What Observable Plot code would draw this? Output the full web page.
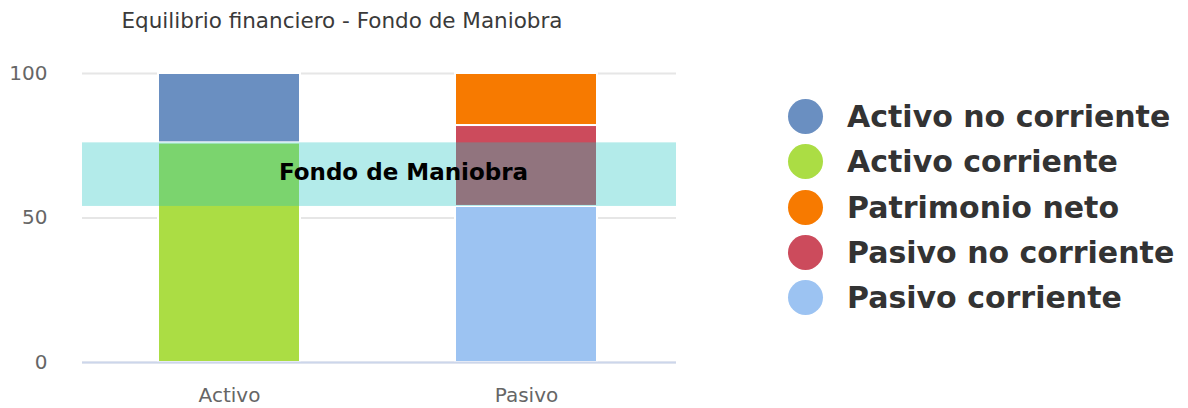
<!DOCTYPE html>
<html>
<head>
<meta charset="utf-8">
<script src="https://cdn.jsdelivr.net/npm/d3@7"></script>
<script src="https://cdn.jsdelivr.net/npm/@observablehq/plot@0.6"></script>
<style>
  html, body { margin: 0; padding: 0; background: #fff; }
  body { width: 1188px; height: 408px; overflow: hidden; font-family: "DejaVu Sans", sans-serif; display: flex; }
  #left { width: 700px; }
  #title { width: 684px; height: 40px; line-height: 42px; text-align: center; font-size: 21.5px; color: #3a3a3a; }
  #legend { margin-left: 88px; margin-top: 94px; }
  .row { display: flex; align-items: center; height: 45.3px; }
  .dot { width: 35px; height: 35px; border-radius: 50%; margin-right: 24px; flex: none; }
  .lab { font-weight: bold; font-size: 30px; color: #333; white-space: nowrap; }
</style>
</head>
<body>
<div id="left">
  <div id="title"></div>
  <div id="chart"></div>
</div>
<div id="legend"></div>
<script>
const titleText = "Equilibrio financiero - Fondo de Maniobra";
const categories = ["Activo", "Pasivo"];
const seriesNames = ["Activo no corriente", "Activo corriente", "Patrimonio neto", "Pasivo no corriente", "Pasivo corriente"];
const seriesCategory = ["Activo", "Activo", "Pasivo", "Pasivo", "Pasivo"];
const seriesValues = [24, 76, 18, 28, 54];
const seriesColors = ["#6a8fc1", "#abdd44", "#f77a00", "#cc4b5c", "#9cc3f2"];
const yTicks = [0, 50, 100];
const bandLabel = "Fondo de Maniobra";
const bandLow = 54;
const bandHigh = 76;

document.getElementById("title").textContent = titleText;

// stack bottom-to-top: later series sit at the bottom
const rows = seriesNames.map((name, i) => ({name, category: seriesCategory[i], value: seriesValues[i]})).reverse();

const chart = Plot.plot({
  width: 700,
  height: 368,
  marginLeft: 82,
  marginRight: 24,
  marginTop: 33,
  marginBottom: 46,
  style: {fontFamily: "'DejaVu Sans', sans-serif", fontSize: "20px", color: "#666", background: "#fff"},
  x: {domain: categories, paddingInner: 0.5235, paddingOuter: 0.2584, align: 0.487, label: null, tickSize: 0, tickPadding: 25},
  y: {domain: [0, 100], ticks: yTicks, label: null, tickSize: 0, tickPadding: 35},
  color: {domain: seriesNames, range: seriesColors},
  marks: [
    Plot.gridY(yTicks, {stroke: "#e6e6e6", strokeOpacity: 1, strokeWidth: 2}),
    Plot.barY(rows, Plot.stackY({x: "category", y: "value", fill: "name", stroke: "#fff", strokeWidth: 2})),
    Plot.rect([{y1: bandLow, y2: bandHigh}], {y1: "y1", y2: "y2", fill: "#20c5c2", fillOpacity: 0.34}),
    Plot.text([{y: (bandLow + bandHigh) / 2, t: bandLabel}], {y: "y", text: "t", frameAnchor: "middle", dx: 24, dy: -2, fontWeight: "bold", fontSize: 23, fill: "#000"}),
    Plot.ruleY([0], {stroke: "#ccd6eb", strokeWidth: 2})
  ]
});
document.getElementById("chart").appendChild(chart);

const legend = document.getElementById("legend");
seriesNames.forEach((name, i) => {
  const row = document.createElement("div");
  row.className = "row";
  const dot = document.createElement("div");
  dot.className = "dot";
  dot.style.background = seriesColors[i];
  const lab = document.createElement("span");
  lab.className = "lab";
  lab.textContent = name;
  row.appendChild(dot);
  row.appendChild(lab);
  legend.appendChild(row);
});
</script>
</body>
</html>
